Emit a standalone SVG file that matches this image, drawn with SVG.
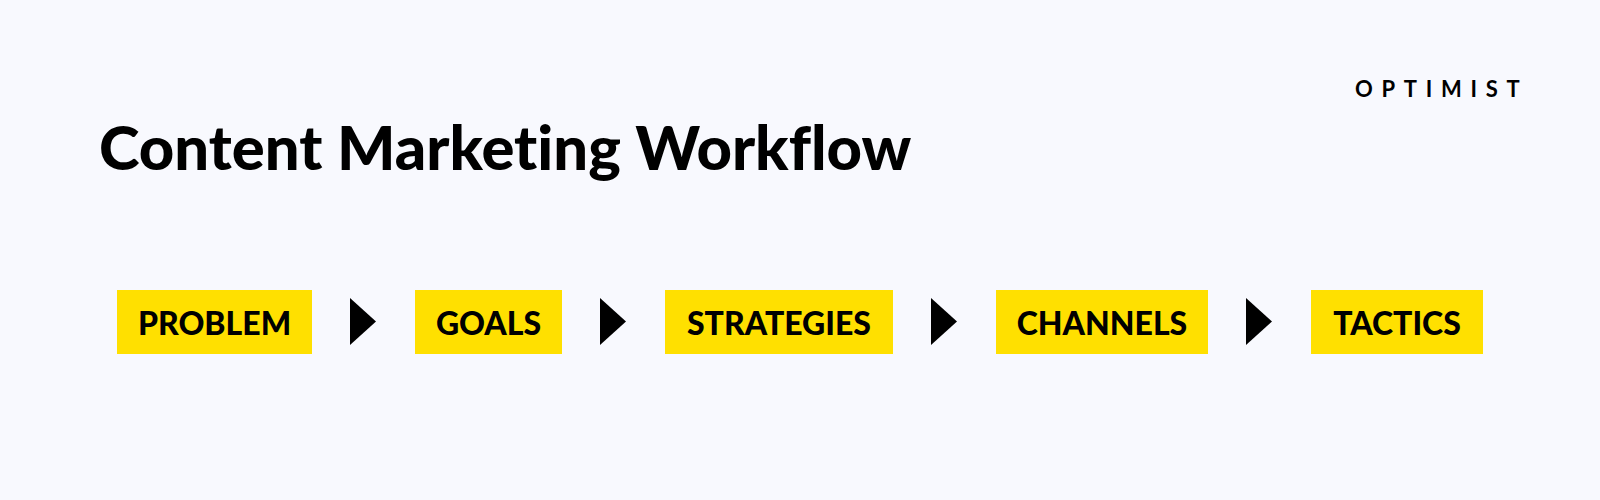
<svg xmlns="http://www.w3.org/2000/svg" width="1600" height="500" viewBox="0 0 1600 500">
  <style>
    text { font-variant-ligatures: none; font-feature-settings: "liga" 0, "clig" 0; }
    .bg { fill: #F8F9FE; }
    .box { fill: #FFE000; }
    .lbl { font-family: Lato, "Liberation Sans", sans-serif; font-weight: 900; font-size: 32px; fill: #000; text-anchor: middle; }
    .title { font-family: Lato, "Liberation Sans", sans-serif; font-weight: 900; font-size: 61.5px; fill: #000; }
    .brand { font-family: Lato, "Liberation Sans", sans-serif; font-weight: 700; font-size: 22px; fill: #000; letter-spacing: 8.7px; }
    .arrow { fill: #000; }
  </style>
  <rect class="bg" x="0" y="0" width="1600" height="500"/>
  <text class="brand" x="1355" y="97">OPTIMIST</text>
  <text class="title" x="99" y="170">Content Marketing Workflow</text>
  <g id="node-problem">
    <rect class="box" x="117" y="290" width="195" height="64"/>
    <text class="lbl" x="214.5" y="335">PROBLEM</text>
  </g>
  <g id="node-goals">
    <rect class="box" x="415" y="290" width="147" height="64"/>
    <text class="lbl" x="488.5" y="335">GOALS</text>
  </g>
  <g id="node-strategies">
    <rect class="box" x="665" y="290" width="228" height="64"/>
    <text class="lbl" x="779" y="335">STRATEGIES</text>
  </g>
  <g id="node-channels">
    <rect class="box" x="996" y="290" width="212" height="64"/>
    <text class="lbl" x="1102" y="335">CHANNELS</text>
  </g>
  <g id="node-tactics">
    <rect class="box" x="1311" y="290" width="172" height="64"/>
    <text class="lbl" x="1397" y="335">TACTICS</text>
  </g>
  <g id="connectors">
    <polygon class="arrow" points="350,298 376,321.5 350,345"/>
    <polygon class="arrow" points="600,298 626,321.5 600,345"/>
    <polygon class="arrow" points="931,298 957,321.5 931,345"/>
    <polygon class="arrow" points="1246,298 1272,321.5 1246,345"/>
  </g>
</svg>
